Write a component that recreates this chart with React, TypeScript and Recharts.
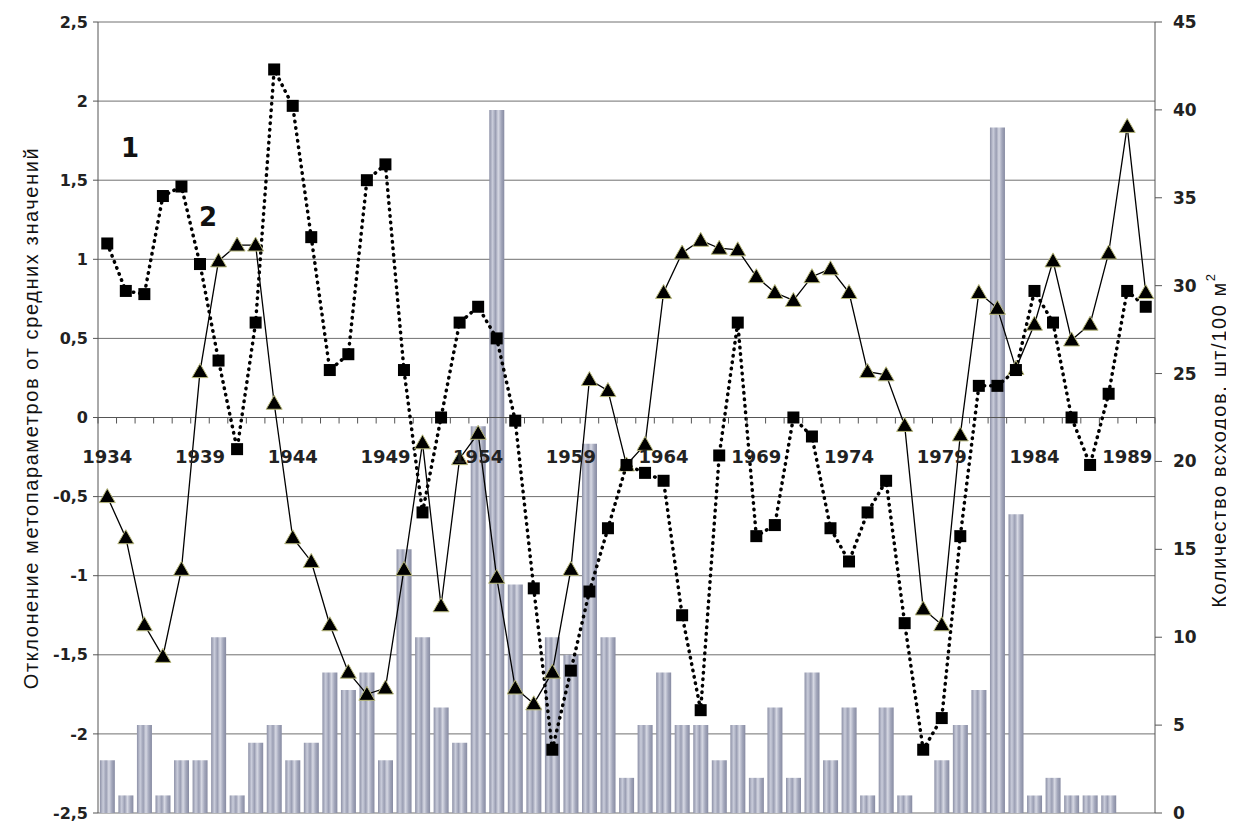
import React from "react";
import {
  ComposedChart,
  Bar,
  Line,
  XAxis,
  YAxis,
  CartesianGrid,
  ReferenceLine,
} from "recharts";

const years = Array.from({ length: 57 }, (_, i) => 1934 + i);

// 1 - dotted line with squares
const series1 = [
  1.1, 0.8, 0.78, 1.4, 1.46, 0.97, 0.36, -0.2, 0.6, 2.2,
  1.97, 1.14, 0.3, 0.4, 1.5, 1.6, 0.3, -0.6, 0, 0.6,
  0.7, 0.5, -0.02, -1.08, -2.1, -1.6, -1.1, -0.7, -0.3, -0.35,
  -0.4, -1.25, -1.85, -0.24, 0.6, -0.75, -0.68, 0, -0.12, -0.7,
  -0.91, -0.6, -0.4, -1.3, -2.1, -1.9, -0.75, 0.2, 0.2, 0.3,
  0.8, 0.6, 0, -0.3, 0.15, 0.8, 0.7,
];

// 2 - solid line with triangles
const series2 = [
  -0.5, -0.76, -1.31, -1.51, -0.96, 0.29, 0.99, 1.09, 1.09, 0.09,
  -0.76, -0.91, -1.31, -1.61, -1.75, -1.71, -0.96, -0.16, -1.19, -0.26,
  -0.1, -1.01, -1.71, -1.81, -1.61, -0.96, 0.24, 0.17, -0.3, -0.17,
  0.79, 1.04, 1.12, 1.07, 1.06, 0.89, 0.79, 0.74, 0.89, 0.94,
  0.79, 0.29, 0.27, -0.05, -1.21, -1.31, -0.11, 0.79, 0.69, 0.31,
  0.59, 0.99, 0.49, 0.59, 1.04, 1.84, 0.79,
];

// seedlings per 100 m2 (bars, right axis)
const seedlings = [
  3, 1, 5, 1, 3, 3, 10, 1, 4, 5,
  3, 4, 8, 7, 8, 3, 15, 10, 6, 4,
  22, 40, 13, 6, 10, 9, 21, 10, 2, 5,
  8, 5, 5, 3, 5, 2, 6, 2, 8, 3,
  6, 1, 6, 1, 0, 3, 5, 7, 39, 17,
  1, 2, 1, 1, 1, 0, 0,
];

const leftTicks = [-2.5, -2, -1.5, -1, -0.5, 0, 0.5, 1, 1.5, 2, 2.5];
const rightTicks = [0, 5, 10, 15, 20, 25, 30, 35, 40, 45];

const data = years.map((year, i) => ({
  year,
  s1: series1[i],
  s2: series2[i],
  seedlings: seedlings[i],
}));

const W = 1226;
const H = 816;
const TOP = 14;
const XAXIS_H = 11;
const PLOT_H = H - TOP - XAXIS_H;
const ZERO_Y = TOP + PLOT_H / 2;
const BAND = (W - 90 - 79) / years.length;

const tickFont = "'DejaVu Sans', Verdana, sans-serif";
const titleFont = "'Liberation Sans', Arial, sans-serif";

const comma = (v: number) => String(v).replace(".", ",");

function YearTick(props: any) {
  const { x, payload, index } = props;
  const show = (payload.value - 1934) % 5 === 0;
  return (
    <g>
      <line x1={x + BAND / 2} x2={x + BAND / 2} y1={ZERO_Y} y2={ZERO_Y + 6} stroke="#555" />
      {index === 0 && <line x1={x - BAND / 2} x2={x - BAND / 2} y1={ZERO_Y} y2={ZERO_Y + 6} stroke="#555" />}
      {show && (
        <text
          x={x}
          y={ZERO_Y + 45}
          textAnchor="middle"
          fontFamily={tickFont}
          fontWeight="bold"
          fontSize={18}
          fill="#222"
        >
          {payload.value}
        </text>
      )}
    </g>
  );
}

function SquareDot(props: any) {
  const { cx, cy } = props;
  if (cx == null || cy == null) return null;
  return <rect x={cx - 6} y={cy - 6} width={12} height={12} fill="#000" />;
}

function TriangleDot(props: any) {
  const { cx, cy } = props;
  if (cx == null || cy == null) return null;
  const s = 8;
  return (
    <path
      d={`M${cx},${cy - s} L${cx + s},${cy + s * 0.75} L${cx - s},${cy + s * 0.75} Z`}
      fill="#000"
      stroke="#b9b97c"
      strokeWidth={1}
    />
  );
}

const titleStyle: React.CSSProperties = {
  position: "absolute",
  writingMode: "vertical-rl",
  transform: "translate(-50%, -50%) rotate(180deg)",
  whiteSpace: "nowrap",
  fontFamily: titleFont,
  fontSize: 20,
  letterSpacing: 1.6,
  color: "#111",
};

export default function App() {
  return (
    <div style={{ position: "relative", width: W, height: H }}>
      <style>{`html, body { overflow: hidden; }`}</style>
      <ComposedChart
        width={W}
        height={H}
        data={data}
        margin={{ top: TOP, right: 0, bottom: 0, left: 0 }}
        barCategoryGap="10%"
      >
        <defs>
          <linearGradient id="barFill" x1="0" y1="0" x2="1" y2="0">
            <stop offset="0%" stopColor="#8c90a6" />
            <stop offset="22%" stopColor="#c9ccda" />
            <stop offset="42%" stopColor="#9a9eb3" />
            <stop offset="60%" stopColor="#d6d8e3" />
            <stop offset="80%" stopColor="#a3a7bb" />
            <stop offset="100%" stopColor="#878ba2" />
          </linearGradient>
        </defs>
        <CartesianGrid yAxisId="left" vertical={false} stroke="#707070" strokeWidth={1} />
        <XAxis
          dataKey="year"
          interval={0}
          height={XAXIS_H}
          axisLine={false}
          tickLine={false}
          tick={<YearTick />}
        />
        <YAxis
          yAxisId="left"
          width={90}
          domain={[-2.5, 2.5]}
          ticks={leftTicks}
          tickFormatter={comma}
          axisLine={{ stroke: "#555" }}
          tickLine={{ stroke: "#555" }}
          tickSize={5}
          tickMargin={5}
          tick={{ fontFamily: tickFont, fontWeight: "bold", fontSize: 16, fill: "#222" }}
        />
        <YAxis
          yAxisId="right"
          orientation="right"
          width={79}
          domain={[0, 45]}
          ticks={rightTicks}
          axisLine={{ stroke: "#555" }}
          tickLine={{ stroke: "#555" }}
          tickSize={7}
          tickMargin={11}
          tick={{ fontFamily: tickFont, fontWeight: "bold", fontSize: 17, fill: "#222" }}
        />
        <Bar
          yAxisId="right"
          dataKey="seedlings"
          fill="url(#barFill)"
          isAnimationActive={false}
        />
        <ReferenceLine yAxisId="left" y={0} stroke="#555" strokeWidth={1.2} />
        <Line
          yAxisId="left"
          dataKey="s2"
          type="linear"
          stroke="#000"
          strokeWidth={1.3}
          dot={<TriangleDot />}
          activeDot={false}
          isAnimationActive={false}
        />
        <Line
          yAxisId="left"
          dataKey="s1"
          type="linear"
          stroke="#000"
          strokeWidth={3.5}
          strokeDasharray="0.5 6"
          strokeLinecap="round"
          dot={<SquareDot />}
          activeDot={false}
          isAnimationActive={false}
        />
      </ComposedChart>

      <div style={{ ...titleStyle, left: 23, top: 410 }}>
        Отклонение метопараметров от средних значений
      </div>
      <div style={{ ...titleStyle, left: 1209, top: 432 }}>
        Количество всходов, шт/100 м<sup style={{ fontSize: 13 }}>2</sup>
      </div>
      <div
        style={{
          position: "absolute",
          left: 113,
          top: 125,
          fontFamily: tickFont,
          fontWeight: "bold",
          fontSize: 26,
          color: "#111",
        }}
      >
        1
      </div>
      <div
        style={{
          position: "absolute",
          left: 191,
          top: 194,
          fontFamily: tickFont,
          fontWeight: "bold",
          fontSize: 26,
          color: "#111",
        }}
      >
        2
      </div>
    </div>
  );
}
